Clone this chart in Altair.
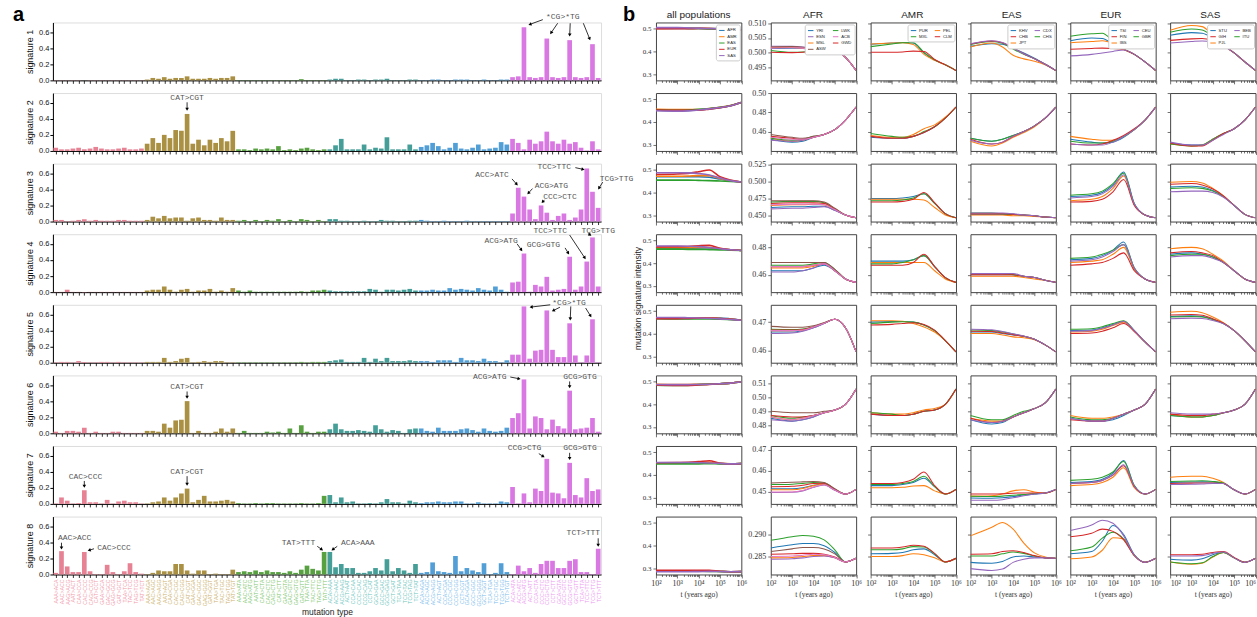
import math
import altair as alt
import pandas as pd

# ---------------- panel a data ----------------
SUBS = [("A", "C"), ("A", "G"), ("A", "T"), ("C", "A"), ("C", "G"), ("C", "T")]
BASES = ["A", "C", "G", "T"]
MUT_TYPES = [f"{l}{r}{q}>{l}{a}{q}" for (r, a) in SUBS for l in BASES for q in BASES]

SIG1 = ([0.002] * 16
        + [0.01, 0.03, 0.02, 0.04, 0.02, 0.03, 0.03, 0.05, 0.02, 0.02, 0.02, 0.03, 0.02, 0.03, 0.03, 0.05]
        + [0.003, 0.003, 0.003, 0.003, 0.003, 0.003, 0.003, 0.003, 0.003, 0.003, 0.003, 0.015, 0.003, 0.003, 0.003, 0.003]
        + [0.01, 0.02, 0.02, 0.003, 0.003, 0.01, 0.01, 0.003, 0.01, 0.01, 0.02, 0.003, 0.003, 0.003, 0.01, 0.01]
        + [0.003, 0.003, 0.01, 0.01, 0.003, 0.003, 0.01, 0.01, 0.01, 0.003, 0.003, 0.01, 0.003, 0.003, 0.01, 0.01]
        + [0.04, 0.05, 0.66, 0.04, 0.03, 0.04, 0.52, 0.04, 0.03, 0.04, 0.50, 0.04, 0.03, 0.04, 0.45, 0.03])
SIG2 = ([0.04, 0.02, 0.02, 0.03, 0.04, 0.02, 0.03, 0.05, 0.03, 0.02, 0.02, 0.03, 0.04, 0.02, 0.02, 0.03]
        + [0.09, 0.16, 0.10, 0.20, 0.16, 0.26, 0.25, 0.46, 0.09, 0.14, 0.07, 0.14, 0.10, 0.16, 0.12, 0.25]
        + [0.02, 0.02, 0.01, 0.03, 0.02, 0.03, 0.02, 0.06, 0.01, 0.02, 0.01, 0.03, 0.04, 0.02, 0.01, 0.02]
        + [0.02, 0.07, 0.15, 0.02, 0.02, 0.02, 0.08, 0.02, 0.04, 0.03, 0.17, 0.02, 0.02, 0.02, 0.08, 0.02]
        + [0.05, 0.07, 0.10, 0.06, 0.02, 0.04, 0.10, 0.03, 0.02, 0.04, 0.08, 0.02, 0.03, 0.04, 0.11, 0.08]
        + [0.15, 0.10, 0.02, 0.14, 0.09, 0.12, 0.24, 0.12, 0.09, 0.14, 0.09, 0.11, 0.04, 0.005, 0.12, 0.02])
SIG3 = ([0.02, 0.02, 0.005, 0.01, 0.02, 0.03, 0.01, 0.02, 0.01, 0.01, 0.01, 0.02, 0.02, 0.01, 0.01, 0.01]
        + [0.02, 0.06, 0.04, 0.07, 0.04, 0.05, 0.05, 0.01, 0.04, 0.05, 0.02, 0.02, 0.01, 0.05, 0.02, 0.02]
        + [0.01, 0.02, 0.005, 0.02, 0.005, 0.02, 0.01, 0.03, 0.005, 0.02, 0.005, 0.03, 0.02, 0.005, 0.02, 0.005]
        + [0.03, 0.03, 0.01, 0.01, 0.005, 0.005, 0.01, 0.005, 0.005, 0.02, 0.01, 0.01, 0.005, 0.005, 0.01, 0.01]
        + [0.02, 0.01, 0.005, 0.005, 0.01, 0.005, 0.005, 0.005, 0.01, 0.005, 0.005, 0.005, 0.005, 0.005, 0.005, 0.005]
        + [0.10, 0.42, 0.31, 0.15, 0.03, 0.20, 0.11, 0.02, 0.07, 0.10, 0.02, 0.05, 0.15, 0.66, 0.37, 0.17])
SIG4 = ([0.003, 0.003, 0.03, 0.003, 0.003, 0.003, 0.003, 0.003, 0.003, 0.003, 0.003, 0.003, 0.003, 0.003, 0.003, 0.003]
        + [0.02, 0.03, 0.03, 0.07, 0.03, 0.005, 0.03, 0.04, 0.005, 0.02, 0.02, 0.04, 0.005, 0.02, 0.005, 0.05]
        + [0.02, 0.005, 0.02, 0.005, 0.005, 0.005, 0.005, 0.005, 0.005, 0.005, 0.005, 0.01, 0.005, 0.02, 0.02, 0.03]
        + [0.02, 0.01, 0.01, 0.01, 0.01, 0.01, 0.01, 0.04, 0.03, 0.005, 0.03, 0.03, 0.02, 0.03, 0.04, 0.02]
        + [0.02, 0.02, 0.03, 0.02, 0.02, 0.05, 0.03, 0.04, 0.03, 0.02, 0.05, 0.03, 0.02, 0.07, 0.03, 0.005]
        + [0.12, 0.13, 0.48, 0.005, 0.09, 0.07, 0.19, 0.02, 0.03, 0.04, 0.44, 0.03, 0.07, 0.38, 0.68, 0.07])
SIG5 = ([0.005, 0.01, 0.01, 0.005, 0.02, 0.01, 0.005, 0.005, 0.01, 0.01, 0.005, 0.01, 0.005, 0.005, 0.005, 0.005]
        + [0.01, 0.01, 0.01, 0.06, 0.01, 0.02, 0.05, 0.06, 0.005, 0.01, 0.02, 0.01, 0.02, 0.02, 0.005, 0.005]
        + [0.005, 0.005, 0.005, 0.005, 0.005, 0.005, 0.005, 0.005, 0.005, 0.005, 0.005, 0.01, 0.005, 0.01, 0.01, 0.01]
        + [0.02, 0.03, 0.04, 0.01, 0.01, 0.01, 0.06, 0.01, 0.05, 0.02, 0.06, 0.02, 0.02, 0.02, 0.03, 0.02]
        + [0.02, 0.02, 0.01, 0.03, 0.03, 0.03, 0.01, 0.06, 0.03, 0.03, 0.02, 0.05, 0.02, 0.02, 0.005, 0.03]
        + [0.10, 0.10, 0.70, 0.05, 0.15, 0.16, 0.65, 0.16, 0.07, 0.07, 0.49, 0.09, 0.005, 0.09, 0.54, 0.005])
SIG6 = ([0.02, 0.005, 0.03, 0.03, 0.02, 0.07, 0.005, 0.02, 0.005, 0.005, 0.02, 0.02, 0.005, 0.005, 0.005, 0.005]
        + [0.03, 0.03, 0.02, 0.12, 0.07, 0.16, 0.17, 0.40, 0.005, 0.03, 0.005, 0.005, 0.02, 0.06, 0.02, 0.06]
        + [0.005, 0.03, 0.005, 0.005, 0.005, 0.02, 0.01, 0.02, 0.005, 0.06, 0.005, 0.10, 0.02, 0.005, 0.02, 0.02]
        + [0.05, 0.12, 0.05, 0.03, 0.03, 0.04, 0.03, 0.02, 0.10, 0.05, 0.02, 0.04, 0.03, 0.005, 0.05, 0.06]
        + [0.06, 0.03, 0.02, 0.07, 0.03, 0.03, 0.03, 0.05, 0.06, 0.04, 0.02, 0.06, 0.03, 0.02, 0.03, 0.07]
        + [0.19, 0.25, 0.67, 0.06, 0.21, 0.19, 0.05, 0.17, 0.09, 0.06, 0.53, 0.05, 0.06, 0.07, 0.19, 0.02])
SIG7 = ([0.005, 0.08, 0.04, 0.005, 0.01, 0.17, 0.02, 0.02, 0.005, 0.05, 0.005, 0.03, 0.04, 0.02, 0.02, 0.005]
        + [0.005, 0.02, 0.03, 0.08, 0.04, 0.08, 0.13, 0.19, 0.02, 0.05, 0.10, 0.03, 0.03, 0.04, 0.05, 0.03]
        + [0.01, 0.005, 0.005, 0.01, 0.005, 0.01, 0.01, 0.005, 0.005, 0.005, 0.005, 0.01, 0.005, 0.005, 0.01, 0.10]
        + [0.11, 0.02, 0.08, 0.02, 0.03, 0.005, 0.005, 0.01, 0.005, 0.02, 0.06, 0.02, 0.02, 0.005, 0.04, 0.02]
        + [0.01, 0.02, 0.02, 0.03, 0.02, 0.02, 0.03, 0.03, 0.005, 0.005, 0.02, 0.005, 0.005, 0.005, 0.03, 0.02]
        + [0.21, 0.005, 0.13, 0.02, 0.19, 0.16, 0.56, 0.14, 0.13, 0.07, 0.51, 0.11, 0.08, 0.32, 0.16, 0.18])
SIG8 = ([0.02, 0.29, 0.10, 0.03, 0.03, 0.28, 0.04, 0.005, 0.005, 0.12, 0.03, 0.005, 0.04, 0.14, 0.03, 0.01]
        + [0.005, 0.02, 0.05, 0.04, 0.04, 0.13, 0.13, 0.05, 0.01, 0.05, 0.05, 0.005, 0.01, 0.005, 0.005, 0.06]
        + [0.03, 0.04, 0.03, 0.05, 0.03, 0.05, 0.03, 0.03, 0.02, 0.04, 0.02, 0.06, 0.11, 0.07, 0.05, 0.28]
        + [0.28, 0.09, 0.13, 0.08, 0.08, 0.02, 0.02, 0.04, 0.08, 0.05, 0.19, 0.04, 0.08, 0.05, 0.02, 0.13]
        + [0.02, 0.03, 0.15, 0.04, 0.03, 0.02, 0.23, 0.04, 0.08, 0.05, 0.03, 0.14, 0.005, 0.02, 0.14, 0.03]
        + [0.005, 0.11, 0.04, 0.08, 0.02, 0.13, 0.17, 0.17, 0.08, 0.08, 0.17, 0.19, 0.03, 0.03, 0.005, 0.32])
SIGNATURES = [SIG1, SIG2, SIG3, SIG4, SIG5, SIG6, SIG7, SIG8]

BAR_COLORS = ["#e68294", "#aa9043", "#58a141", "#459e97", "#519fd6", "#d978e2"]
LABEL_COLORS = ["#f29aab", "#cdb26e", "#82c873", "#6fc6bd", "#7dbdec", "#ec98f1"]

# annotations: signature -> [(text, text_idx, text_val, [(x0, y0, x1, y1), ...])]
ANNOTS = {
    0: [("*CG>*TG", 88.8, 0.785, [(85.3, 0.755, 82.8, 0.69), (87.9, 0.71, 86.6, 0.575),
                                  (90.1, 0.71, 90.0, 0.545), (92.4, 0.71, 93.6, 0.50)])],
    1: [("CAT>CGT", 23.0, 0.655, [(23.0, 0.605, 23.0, 0.50)])],
    2: [("ACC>ATC", 76.4, 0.575, [(79.9, 0.53, 80.9, 0.45)]),
        ("ACG>ATG", 86.8, 0.445, [(83.5, 0.41, 82.6, 0.34)]),
        ("CCC>CTC", 88.3, 0.31, [(85.6, 0.27, 85.1, 0.23)]),
        ("TCC>TTC", 87.3, 0.68, [(91.0, 0.67, 92.6, 0.645)]),
        ("TCG>TTG", 98.2, 0.53, [(95.8, 0.49, 95.0, 0.40)])],
    3: [("ACG>ATG", 78.0, 0.64, [(80.8, 0.60, 81.7, 0.51)]),
        ("GCG>GTG", 85.4, 0.58, [(89.2, 0.55, 89.9, 0.47)]),
        ("TCC>TTC", 86.6, 0.76, [(90.0, 0.71, 92.8, 0.41)]),
        ("TCG>TTG", 95.0, 0.765, [(93.2, 0.73, 93.8, 0.70)])],
    4: [("*CG>*TG", 89.9, 0.745, [(86.6, 0.72, 83.0, 0.69), (88.3, 0.69, 86.9, 0.64),
                                  (90.2, 0.70, 90.1, 0.525), (92.8, 0.68, 93.8, 0.565)])],
    5: [("CAT>CGT", 23.0, 0.575, [(23.0, 0.52, 23.0, 0.43)]),
        ("ACG>ATG", 76.0, 0.70, [(79.6, 0.70, 81.4, 0.675)]),
        ("GCG>GTG", 91.8, 0.695, [(90.0, 0.645, 90.0, 0.56)])],
    6: [("CAC>CCC", 5.2, 0.335, [(5.0, 0.285, 5.0, 0.20)]),
        ("CAT>CGT", 23.0, 0.40, [(23.0, 0.345, 23.0, 0.225)]),
        ("CCG>CTG", 82.1, 0.69, [(84.6, 0.625, 85.6, 0.58)]),
        ("GCG>GTG", 91.8, 0.69, [(90.0, 0.635, 90.0, 0.545)])],
    7: [("AAC>ACC", 3.3, 0.45, [(1.0, 0.395, 1.0, 0.31)]),
        ("CAC>CCC", 10.2, 0.33, [(6.7, 0.32, 5.6, 0.295)]),
        ("TAT>TTT", 42.5, 0.39, [(45.8, 0.35, 46.8, 0.30)]),
        ("ACA>AAA", 52.9, 0.39, [(49.3, 0.35, 48.3, 0.30)]),
        ("TCT>TTT", 92.4, 0.51, [(95.0, 0.45, 95.0, 0.345)])],
}

# ---------------- panel b data ----------------
LOGT = [2, 3, 3.5, 4, 4.5, 5, 5.5, 6]
POPS = {
    "all": ["AFR", "AMR", "EAS", "EUR", "SAS"],
    "AFR": ["YRI", "MSL", "LWK", "GWD", "ESN", "ASW", "ACB"],
    "AMR": ["PUR", "PEL", "MXL", "CLM"],
    "EAS": ["KHV", "JPT", "CHS", "CHB", "CDX"],
    "EUR": ["TSI", "IBS", "GBR", "FIN", "CEU"],
    "SAS": ["STU", "PJL", "ITU", "GIH", "BEB"],
}
LEGEND_ORDER = {
    "all": ["AFR", "AMR", "EAS", "EUR", "SAS"],
    "AFR": ["YRI", "ESN", "MSL", "ASW", "LWK", "ACB", "GWD"],
    "AMR": ["PUR", "MXL", "PEL", "CLM"],
    "EAS": ["KHV", "CHB", "JPT", "CDX", "CHS"],
    "EUR": ["TSI", "FIN", "IBS", "CEU", "GBR"],
    "SAS": ["STU", "GIH", "PJL", "BEB", "ITU"],
}
COLS = ["all", "AFR", "AMR", "EAS", "EUR", "SAS"]
COL_TITLES = ["all populations", "AFR", "AMR", "EAS", "EUR", "SAS"]
TAB10 = ["#1f77b4", "#ff7f0e", "#2ca02c", "#d62728", "#9467bd", "#8c564b", "#e377c2"]

ALL_YDOMAIN = [0.272, 0.528]
ALL_YTICKS = [0.3, 0.4, 0.5]
SUB_YDOMAIN = [[0.4908, 0.5102], [0.4398, 0.5002], [0.4415, 0.5262], [0.4474, 0.4896],
               [0.4557, 0.4761], [0.4743, 0.5157], [0.4443, 0.4719], [0.2811, 0.2940]]
SUB_YTICKS = [[0.495, 0.500, 0.505, 0.510], [0.46, 0.48, 0.50], [0.450, 0.475, 0.500, 0.525], [0.46, 0.48],
              [0.46, 0.47], [0.48, 0.49, 0.50, 0.51], [0.45, 0.46, 0.47], [0.285, 0.290]]
SUB_YFMT = [".3f", ".2f", ".3f", ".2f", ".2f", ".2f", ".2f", ".3f"]

LINES_S1 = {
    "all": {"AFR": [0.501, 0.501, 0.501, 0.501, 0.501, 0.501, 0.499, 0.496],
            "AMR": [0.502, 0.503, 0.503, 0.503, 0.501, 0.499, 0.497, 0.496],
            "EAS": [0.503, 0.503, 0.502, 0.501, 0.499, 0.498, 0.497, 0.496],
            "EUR": [0.500, 0.500, 0.500, 0.501, 0.501, 0.500, 0.498, 0.496],
            "SAS": [0.505, 0.505, 0.504, 0.503, 0.501, 0.500, 0.498, 0.496]},
    "AFR": {"YRI": [0.5015, 0.5016, 0.5015, 0.5013, 0.5011, 0.5010, 0.4985, 0.4941],
            "MSL": [0.5018, 0.5018, 0.5016, 0.5013, 0.5011, 0.5010, 0.4985, 0.4941],
            "LWK": [0.5008, 0.5002, 0.5003, 0.5007, 0.5010, 0.5010, 0.4985, 0.4941],
            "GWD": [0.5002, 0.5001, 0.5002, 0.5006, 0.5010, 0.5010, 0.4985, 0.4941],
            "ESN": [0.5022, 0.5022, 0.5020, 0.5015, 0.5011, 0.5010, 0.4985, 0.4941],
            "ASW": [0.5020, 0.5021, 0.5019, 0.5014, 0.5011, 0.5010, 0.4985, 0.4941],
            "ACB": [0.5016, 0.5017, 0.5016, 0.5013, 0.5011, 0.5010, 0.4985, 0.4941]},
    "AMR": {"PUR": [0.5029, 0.5033, 0.5035, 0.5033, 0.5000, 0.4976, 0.4960, 0.4941],
            "PEL": [0.5030, 0.5033, 0.5034, 0.5028, 0.4995, 0.4975, 0.4960, 0.4941],
            "MXL": [0.5021, 0.5030, 0.5034, 0.5034, 0.5002, 0.4977, 0.4960, 0.4941],
            "CLM": [0.5002, 0.5002, 0.5003, 0.5006, 0.5005, 0.4978, 0.4960, 0.4941]},
    "EAS": {"KHV": [0.5022, 0.5031, 0.5029, 0.5015, 0.5000, 0.4982, 0.4962, 0.4941],
            "JPT": [0.5020, 0.5033, 0.5020, 0.4992, 0.4980, 0.4972, 0.4960, 0.4941],
            "CHS": [0.5028, 0.5038, 0.5032, 0.5013, 0.4995, 0.4980, 0.4962, 0.4941],
            "CHB": [0.5030, 0.5040, 0.5034, 0.5016, 0.4997, 0.4980, 0.4962, 0.4941],
            "CDX": [0.5031, 0.5041, 0.5035, 0.5016, 0.4997, 0.4980, 0.4962, 0.4941]},
    "EUR": {"TSI": [0.5041, 0.5050, 0.5048, 0.5030, 0.5012, 0.4995, 0.4970, 0.4941],
            "IBS": [0.5034, 0.5038, 0.5041, 0.5032, 0.5012, 0.4995, 0.4970, 0.4941],
            "GBR": [0.5056, 0.5064, 0.5066, 0.5040, 0.5013, 0.4995, 0.4970, 0.4941],
            "FIN": [0.5012, 0.5015, 0.5016, 0.5015, 0.5011, 0.4995, 0.4970, 0.4941],
            "CEU": [0.4990, 0.4995, 0.5000, 0.5005, 0.5010, 0.4995, 0.4970, 0.4941]},
    "SAS": {"STU": [0.5059, 0.5068, 0.5066, 0.5050, 0.5025, 0.5000, 0.4970, 0.4941],
            "PJL": [0.5076, 0.5092, 0.5088, 0.5060, 0.5026, 0.5000, 0.4970, 0.4941],
            "ITU": [0.5069, 0.5080, 0.5077, 0.5055, 0.5025, 0.5000, 0.4970, 0.4941],
            "GIH": [0.5042, 0.5047, 0.5048, 0.5040, 0.5024, 0.5000, 0.4970, 0.4941],
            "BEB": [0.5033, 0.5038, 0.5040, 0.5036, 0.5023, 0.5000, 0.4970, 0.4941]},
}
LINES_S2 = {
    "all": {"AFR": [0.452, 0.450, 0.451, 0.454, 0.458, 0.463, 0.472, 0.486],
            "AMR": [0.456, 0.455, 0.455, 0.455, 0.459, 0.465, 0.473, 0.486],
            "EAS": [0.454, 0.452, 0.453, 0.456, 0.460, 0.465, 0.473, 0.486],
            "EUR": [0.453, 0.452, 0.452, 0.452, 0.457, 0.463, 0.472, 0.486],
            "SAS": [0.450, 0.448, 0.449, 0.453, 0.458, 0.464, 0.472, 0.486]},
    "AFR": {"YRI": [0.452, 0.449, 0.450, 0.454, 0.457, 0.462, 0.472, 0.4856],
            "MSL": [0.453, 0.450, 0.451, 0.454, 0.457, 0.462, 0.472, 0.4856],
            "LWK": [0.453, 0.451, 0.452, 0.455, 0.457, 0.462, 0.472, 0.4856],
            "GWD": [0.455, 0.453, 0.452, 0.454, 0.457, 0.462, 0.472, 0.4856],
            "ESN": [0.451, 0.450, 0.451, 0.454, 0.457, 0.462, 0.472, 0.4856],
            "ASW": [0.457, 0.454, 0.453, 0.455, 0.457, 0.462, 0.472, 0.4856],
            "ACB": [0.454, 0.452, 0.452, 0.454, 0.457, 0.462, 0.472, 0.4856]},
    "AMR": {"PUR": [0.454, 0.453, 0.453, 0.455, 0.459, 0.465, 0.474, 0.4856],
            "PEL": [0.456, 0.454, 0.454, 0.457, 0.463, 0.467, 0.475, 0.4856],
            "MXL": [0.458, 0.455, 0.454, 0.455, 0.460, 0.465, 0.474, 0.4856],
            "CLM": [0.455, 0.453, 0.453, 0.455, 0.459, 0.465, 0.474, 0.4856]},
    "EAS": {"KHV": [0.453, 0.450, 0.452, 0.456, 0.460, 0.466, 0.474, 0.4856],
            "JPT": [0.450, 0.445, 0.448, 0.454, 0.459, 0.465, 0.474, 0.4856],
            "CHS": [0.453, 0.450, 0.452, 0.456, 0.460, 0.466, 0.474, 0.4856],
            "CHB": [0.452, 0.447, 0.449, 0.455, 0.460, 0.466, 0.474, 0.4856],
            "CDX": [0.451, 0.447, 0.449, 0.455, 0.460, 0.466, 0.474, 0.4856]},
    "EUR": {"TSI": [0.452, 0.449, 0.448, 0.449, 0.454, 0.462, 0.472, 0.4856],
            "IBS": [0.455, 0.452, 0.451, 0.451, 0.455, 0.462, 0.472, 0.4856],
            "GBR": [0.450, 0.448, 0.448, 0.450, 0.455, 0.462, 0.472, 0.4856],
            "FIN": [0.447, 0.446, 0.447, 0.451, 0.456, 0.463, 0.472, 0.4856],
            "CEU": [0.447, 0.446, 0.446, 0.449, 0.455, 0.462, 0.472, 0.4856]},
    "SAS": {"STU": [0.448, 0.446, 0.446, 0.452, 0.458, 0.463, 0.472, 0.4856],
            "PJL": [0.447, 0.445, 0.446, 0.452, 0.458, 0.463, 0.472, 0.4856],
            "ITU": [0.447, 0.445, 0.446, 0.452, 0.458, 0.463, 0.472, 0.4856],
            "GIH": [0.448, 0.445, 0.445, 0.451, 0.458, 0.463, 0.472, 0.4856],
            "BEB": [0.449, 0.446, 0.446, 0.451, 0.457, 0.463, 0.472, 0.4856]},
}
LINES_S3 = {
    "all": {"AFR": [0.470, 0.470, 0.470, 0.470, 0.468, 0.460, 0.452, 0.447],
            "AMR": [0.472, 0.472, 0.473, 0.475, 0.475, 0.462, 0.452, 0.447],
            "EAS": [0.455, 0.455, 0.455, 0.454, 0.453, 0.451, 0.449, 0.447],
            "EUR": [0.480, 0.482, 0.485, 0.492, 0.500, 0.470, 0.455, 0.447],
            "SAS": [0.488, 0.488, 0.487, 0.484, 0.478, 0.465, 0.453, 0.447]},
    "AFR": {"YRI": [0.462, 0.463, 0.463, 0.464, 0.464, 0.458, 0.451, 0.447],
            "MSL": [0.465, 0.466, 0.466, 0.467, 0.466, 0.459, 0.451, 0.447],
            "LWK": [0.470, 0.471, 0.471, 0.471, 0.469, 0.460, 0.451, 0.447],
            "GWD": [0.468, 0.469, 0.469, 0.469, 0.468, 0.460, 0.451, 0.447],
            "ESN": [0.460, 0.461, 0.461, 0.462, 0.463, 0.458, 0.451, 0.447],
            "ASW": [0.472, 0.472, 0.472, 0.472, 0.470, 0.461, 0.451, 0.447],
            "ACB": [0.466, 0.467, 0.467, 0.467, 0.466, 0.459, 0.451, 0.447]},
    "AMR": {"PUR": [0.475, 0.475, 0.476, 0.478, 0.482, 0.468, 0.453, 0.447],
            "PEL": [0.474, 0.474, 0.474, 0.474, 0.473, 0.462, 0.451, 0.447],
            "MXL": [0.472, 0.472, 0.473, 0.476, 0.482, 0.468, 0.453, 0.447],
            "CLM": [0.470, 0.470, 0.471, 0.474, 0.484, 0.469, 0.453, 0.447]},
    "EAS": {"KHV": [0.452, 0.452, 0.452, 0.452, 0.451, 0.450, 0.448, 0.447],
            "JPT": [0.451, 0.451, 0.451, 0.450, 0.450, 0.449, 0.448, 0.447],
            "CHS": [0.454, 0.454, 0.453, 0.452, 0.451, 0.450, 0.448, 0.447],
            "CHB": [0.453, 0.453, 0.453, 0.452, 0.451, 0.450, 0.448, 0.447],
            "CDX": [0.454, 0.454, 0.454, 0.453, 0.451, 0.450, 0.448, 0.447]},
    "EUR": {"TSI": [0.478, 0.480, 0.484, 0.495, 0.514, 0.468, 0.451, 0.447],
            "IBS": [0.472, 0.474, 0.478, 0.490, 0.508, 0.466, 0.451, 0.447],
            "GBR": [0.480, 0.482, 0.486, 0.497, 0.512, 0.467, 0.451, 0.447],
            "FIN": [0.470, 0.471, 0.474, 0.485, 0.503, 0.465, 0.451, 0.447],
            "CEU": [0.476, 0.478, 0.482, 0.493, 0.510, 0.467, 0.451, 0.447]},
    "SAS": {"STU": [0.492, 0.493, 0.492, 0.487, 0.478, 0.465, 0.452, 0.447],
            "PJL": [0.499, 0.500, 0.498, 0.490, 0.479, 0.465, 0.452, 0.447],
            "ITU": [0.490, 0.491, 0.490, 0.486, 0.478, 0.465, 0.452, 0.447],
            "GIH": [0.496, 0.497, 0.495, 0.489, 0.479, 0.465, 0.452, 0.447],
            "BEB": [0.485, 0.486, 0.486, 0.484, 0.477, 0.465, 0.452, 0.447]},
}
LINES_S4 = {
    "all": {"AFR": [0.466, 0.466, 0.466, 0.467, 0.467, 0.463, 0.459, 0.456],
            "AMR": [0.468, 0.468, 0.468, 0.469, 0.470, 0.465, 0.459, 0.456],
            "EAS": [0.462, 0.462, 0.461, 0.461, 0.460, 0.459, 0.457, 0.456],
            "EUR": [0.472, 0.473, 0.474, 0.477, 0.479, 0.466, 0.459, 0.456],
            "SAS": [0.476, 0.476, 0.475, 0.473, 0.469, 0.464, 0.459, 0.456]},
    "AFR": {"YRI": [0.463, 0.463, 0.463, 0.465, 0.467, 0.463, 0.457, 0.4545],
            "MSL": [0.465, 0.465, 0.465, 0.466, 0.468, 0.463, 0.457, 0.4545],
            "LWK": [0.467, 0.467, 0.467, 0.468, 0.469, 0.464, 0.457, 0.4545],
            "GWD": [0.466, 0.466, 0.466, 0.467, 0.468, 0.463, 0.457, 0.4545],
            "ESN": [0.462, 0.462, 0.463, 0.465, 0.468, 0.463, 0.457, 0.4545],
            "ASW": [0.469, 0.469, 0.469, 0.469, 0.469, 0.464, 0.457, 0.4545],
            "ACB": [0.466, 0.466, 0.466, 0.467, 0.468, 0.463, 0.457, 0.4545]},
    "AMR": {"PUR": [0.470, 0.470, 0.470, 0.471, 0.474, 0.466, 0.458, 0.4545],
            "PEL": [0.469, 0.469, 0.469, 0.469, 0.469, 0.463, 0.457, 0.4545],
            "MXL": [0.468, 0.468, 0.469, 0.471, 0.474, 0.466, 0.458, 0.4545],
            "CLM": [0.467, 0.467, 0.467, 0.469, 0.475, 0.466, 0.458, 0.4545]},
    "EAS": {"KHV": [0.460, 0.460, 0.460, 0.460, 0.459, 0.458, 0.456, 0.4545],
            "JPT": [0.459, 0.459, 0.459, 0.459, 0.458, 0.457, 0.456, 0.4545],
            "CHS": [0.461, 0.461, 0.461, 0.460, 0.459, 0.458, 0.456, 0.4545],
            "CHB": [0.460, 0.460, 0.460, 0.460, 0.459, 0.458, 0.456, 0.4545],
            "CDX": [0.461, 0.461, 0.461, 0.461, 0.459, 0.458, 0.456, 0.4545]},
    "EUR": {"TSI": [0.471, 0.472, 0.474, 0.478, 0.484, 0.465, 0.457, 0.4545],
            "IBS": [0.469, 0.470, 0.471, 0.475, 0.480, 0.464, 0.457, 0.4545],
            "GBR": [0.472, 0.473, 0.475, 0.478, 0.482, 0.465, 0.457, 0.4545],
            "FIN": [0.467, 0.468, 0.469, 0.472, 0.476, 0.463, 0.457, 0.4545],
            "CEU": [0.470, 0.471, 0.473, 0.477, 0.482, 0.465, 0.457, 0.4545]},
    "SAS": {"STU": [0.475, 0.476, 0.475, 0.473, 0.469, 0.463, 0.457, 0.4545],
            "PJL": [0.479, 0.480, 0.479, 0.475, 0.470, 0.463, 0.457, 0.4545],
            "ITU": [0.474, 0.475, 0.475, 0.473, 0.469, 0.463, 0.457, 0.4545],
            "GIH": [0.476, 0.477, 0.476, 0.474, 0.469, 0.463, 0.457, 0.4545],
            "BEB": [0.473, 0.474, 0.474, 0.472, 0.469, 0.463, 0.457, 0.4545]},
}
LINES_S5 = {
    "all": {"AFR": [0.468, 0.468, 0.468, 0.469, 0.470, 0.470, 0.466, 0.460],
            "AMR": [0.470, 0.470, 0.470, 0.470, 0.469, 0.467, 0.464, 0.460],
            "EAS": [0.467, 0.466, 0.466, 0.465, 0.465, 0.464, 0.462, 0.460],
            "EUR": [0.467, 0.467, 0.468, 0.469, 0.470, 0.467, 0.464, 0.460],
            "SAS": [0.472, 0.472, 0.471, 0.470, 0.468, 0.466, 0.463, 0.460]},
    "AFR": {"YRI": [0.4665, 0.4665, 0.4670, 0.4680, 0.4695, 0.4710, 0.4680, 0.4595],
            "MSL": [0.4670, 0.4670, 0.4672, 0.4682, 0.4696, 0.4710, 0.4680, 0.4595],
            "LWK": [0.4675, 0.4674, 0.4676, 0.4684, 0.4697, 0.4710, 0.4680, 0.4595],
            "GWD": [0.4672, 0.4672, 0.4674, 0.4683, 0.4696, 0.4710, 0.4680, 0.4595],
            "ESN": [0.4660, 0.4662, 0.4668, 0.4680, 0.4695, 0.4710, 0.4680, 0.4595],
            "ASW": [0.4685, 0.4682, 0.4682, 0.4687, 0.4698, 0.4710, 0.4680, 0.4595],
            "ACB": [0.4670, 0.4670, 0.4672, 0.4683, 0.4696, 0.4710, 0.4680, 0.4595]},
    "AMR": {"PUR": [0.4700, 0.4702, 0.4702, 0.4700, 0.4690, 0.4670, 0.4635, 0.4595],
            "PEL": [0.4705, 0.4705, 0.4703, 0.4695, 0.4683, 0.4665, 0.4635, 0.4595],
            "MXL": [0.4695, 0.4700, 0.4701, 0.4700, 0.4690, 0.4670, 0.4635, 0.4595],
            "CLM": [0.4690, 0.4692, 0.4695, 0.4698, 0.4692, 0.4672, 0.4635, 0.4595]},
    "EAS": {"KHV": [0.4665, 0.4665, 0.4660, 0.4655, 0.4650, 0.4640, 0.4620, 0.4595],
            "JPT": [0.4660, 0.4660, 0.4655, 0.4648, 0.4645, 0.4638, 0.4620, 0.4595],
            "CHS": [0.4672, 0.4670, 0.4665, 0.4658, 0.4650, 0.4640, 0.4620, 0.4595],
            "CHB": [0.4668, 0.4667, 0.4662, 0.4656, 0.4650, 0.4640, 0.4620, 0.4595],
            "CDX": [0.4675, 0.4673, 0.4667, 0.4659, 0.4651, 0.4640, 0.4620, 0.4595]},
    "EUR": {"TSI": [0.4670, 0.4672, 0.4680, 0.4692, 0.4703, 0.4670, 0.4630, 0.4595],
            "IBS": [0.4665, 0.4668, 0.4675, 0.4688, 0.4700, 0.4668, 0.4630, 0.4595],
            "GBR": [0.4675, 0.4677, 0.4684, 0.4695, 0.4705, 0.4670, 0.4630, 0.4595],
            "FIN": [0.4660, 0.4662, 0.4668, 0.4680, 0.4695, 0.4667, 0.4630, 0.4595],
            "CEU": [0.4668, 0.4670, 0.4678, 0.4690, 0.4702, 0.4670, 0.4630, 0.4595]},
    "SAS": {"STU": [0.4720, 0.4722, 0.4720, 0.4710, 0.4695, 0.4670, 0.4635, 0.4595],
            "PJL": [0.4735, 0.4738, 0.4733, 0.4718, 0.4698, 0.4670, 0.4635, 0.4595],
            "ITU": [0.4718, 0.4720, 0.4718, 0.4709, 0.4695, 0.4670, 0.4635, 0.4595],
            "GIH": [0.4725, 0.4727, 0.4724, 0.4712, 0.4696, 0.4670, 0.4635, 0.4595],
            "BEB": [0.4712, 0.4714, 0.4713, 0.4706, 0.4694, 0.4670, 0.4635, 0.4595]},
}
LINES_S6 = {
    "all": {"AFR": [0.486, 0.485, 0.486, 0.488, 0.490, 0.491, 0.494, 0.500],
            "AMR": [0.489, 0.488, 0.488, 0.489, 0.490, 0.491, 0.494, 0.500],
            "EAS": [0.485, 0.483, 0.484, 0.487, 0.489, 0.491, 0.494, 0.500],
            "EUR": [0.486, 0.484, 0.484, 0.486, 0.488, 0.491, 0.494, 0.500],
            "SAS": [0.488, 0.487, 0.487, 0.488, 0.489, 0.491, 0.494, 0.500]},
    "AFR": {"YRI": [0.485, 0.483, 0.484, 0.486, 0.489, 0.491, 0.495, 0.506],
            "MSL": [0.486, 0.484, 0.485, 0.487, 0.489, 0.491, 0.495, 0.506],
            "LWK": [0.487, 0.485, 0.486, 0.487, 0.489, 0.491, 0.495, 0.506],
            "GWD": [0.487, 0.486, 0.486, 0.487, 0.489, 0.491, 0.495, 0.506],
            "ESN": [0.484, 0.483, 0.484, 0.486, 0.489, 0.491, 0.495, 0.506],
            "ASW": [0.490, 0.489, 0.489, 0.489, 0.490, 0.491, 0.495, 0.506],
            "ACB": [0.486, 0.484, 0.485, 0.487, 0.489, 0.491, 0.495, 0.506]},
    "AMR": {"PUR": [0.488, 0.487, 0.487, 0.488, 0.490, 0.491, 0.495, 0.506],
            "PEL": [0.489, 0.488, 0.488, 0.489, 0.491, 0.492, 0.495, 0.506],
            "MXL": [0.489, 0.488, 0.487, 0.488, 0.490, 0.491, 0.495, 0.506],
            "CLM": [0.488, 0.487, 0.487, 0.488, 0.490, 0.491, 0.495, 0.506]},
    "EAS": {"KHV": [0.484, 0.481, 0.482, 0.486, 0.489, 0.492, 0.496, 0.506],
            "JPT": [0.485, 0.483, 0.483, 0.486, 0.489, 0.492, 0.496, 0.506],
            "CHS": [0.487, 0.484, 0.484, 0.487, 0.490, 0.492, 0.496, 0.506],
            "CHB": [0.485, 0.482, 0.483, 0.486, 0.489, 0.492, 0.496, 0.506],
            "CDX": [0.484, 0.482, 0.483, 0.486, 0.489, 0.492, 0.496, 0.506]},
    "EUR": {"TSI": [0.485, 0.483, 0.483, 0.484, 0.487, 0.491, 0.495, 0.506],
            "IBS": [0.487, 0.485, 0.485, 0.486, 0.488, 0.491, 0.495, 0.506],
            "GBR": [0.486, 0.484, 0.484, 0.485, 0.488, 0.491, 0.495, 0.506],
            "FIN": [0.484, 0.483, 0.483, 0.485, 0.488, 0.491, 0.495, 0.506],
            "CEU": [0.485, 0.483, 0.483, 0.485, 0.488, 0.491, 0.495, 0.506]},
    "SAS": {"STU": [0.487, 0.486, 0.486, 0.487, 0.489, 0.491, 0.495, 0.506],
            "PJL": [0.488, 0.486, 0.486, 0.487, 0.489, 0.491, 0.495, 0.506],
            "ITU": [0.487, 0.486, 0.486, 0.487, 0.489, 0.491, 0.495, 0.506],
            "GIH": [0.488, 0.487, 0.487, 0.488, 0.489, 0.491, 0.495, 0.506],
            "BEB": [0.489, 0.488, 0.488, 0.488, 0.489, 0.491, 0.495, 0.506]},
}
LINES_S7 = {
    "all": {"AFR": [0.452, 0.452, 0.452, 0.453, 0.454, 0.451, 0.449, 0.450],
            "AMR": [0.454, 0.454, 0.454, 0.455, 0.456, 0.451, 0.449, 0.450],
            "EAS": [0.449, 0.449, 0.449, 0.449, 0.450, 0.449, 0.449, 0.450],
            "EUR": [0.454, 0.455, 0.456, 0.459, 0.463, 0.452, 0.449, 0.450],
            "SAS": [0.455, 0.455, 0.455, 0.454, 0.453, 0.451, 0.449, 0.450]},
    "AFR": {"YRI": [0.4515, 0.4515, 0.4520, 0.4532, 0.4538, 0.4510, 0.4490, 0.4512],
            "MSL": [0.4510, 0.4510, 0.4516, 0.4530, 0.4537, 0.4510, 0.4490, 0.4512],
            "LWK": [0.4535, 0.4537, 0.4540, 0.4545, 0.4543, 0.4513, 0.4490, 0.4512],
            "GWD": [0.4525, 0.4527, 0.4532, 0.4540, 0.4541, 0.4512, 0.4490, 0.4512],
            "ESN": [0.4497, 0.4498, 0.4505, 0.4522, 0.4533, 0.4508, 0.4490, 0.4512],
            "ASW": [0.4543, 0.4546, 0.4548, 0.4550, 0.4545, 0.4515, 0.4490, 0.4512],
            "ACB": [0.4500, 0.4500, 0.4507, 0.4524, 0.4534, 0.4509, 0.4490, 0.4512]},
    "AMR": {"PUR": [0.4530, 0.4530, 0.4535, 0.4545, 0.4565, 0.4525, 0.4490, 0.4512],
            "PEL": [0.4520, 0.4520, 0.4522, 0.4528, 0.4530, 0.4505, 0.4490, 0.4512],
            "MXL": [0.4535, 0.4535, 0.4540, 0.4550, 0.4575, 0.4525, 0.4490, 0.4512],
            "CLM": [0.4540, 0.4540, 0.4545, 0.4560, 0.4595, 0.4530, 0.4490, 0.4512]},
    "EAS": {"KHV": [0.4471, 0.4470, 0.4472, 0.4478, 0.4485, 0.4490, 0.4495, 0.4512],
            "JPT": [0.4480, 0.4482, 0.4490, 0.4505, 0.4510, 0.4500, 0.4495, 0.4512],
            "CHS": [0.4479, 0.4478, 0.4480, 0.4484, 0.4488, 0.4492, 0.4495, 0.4512],
            "CHB": [0.4490, 0.4490, 0.4491, 0.4494, 0.4495, 0.4495, 0.4495, 0.4512],
            "CDX": [0.4460, 0.4460, 0.4463, 0.4472, 0.4482, 0.4490, 0.4495, 0.4512]},
    "EUR": {"TSI": [0.4545, 0.4550, 0.4560, 0.4590, 0.4650, 0.4530, 0.4490, 0.4512],
            "IBS": [0.4530, 0.4535, 0.4545, 0.4570, 0.4615, 0.4520, 0.4490, 0.4512],
            "GBR": [0.4555, 0.4560, 0.4570, 0.4595, 0.4645, 0.4530, 0.4490, 0.4512],
            "FIN": [0.4540, 0.4545, 0.4555, 0.4580, 0.4625, 0.4525, 0.4490, 0.4512],
            "CEU": [0.4540, 0.4545, 0.4555, 0.4582, 0.4630, 0.4527, 0.4490, 0.4512]},
    "SAS": {"STU": [0.4545, 0.4547, 0.4548, 0.4547, 0.4540, 0.4510, 0.4490, 0.4512],
            "PJL": [0.4570, 0.4575, 0.4575, 0.4565, 0.4545, 0.4510, 0.4490, 0.4512],
            "ITU": [0.4550, 0.4552, 0.4553, 0.4550, 0.4542, 0.4510, 0.4490, 0.4512],
            "GIH": [0.4540, 0.4542, 0.4543, 0.4543, 0.4540, 0.4510, 0.4490, 0.4512],
            "BEB": [0.4535, 0.4537, 0.4538, 0.4540, 0.4540, 0.4510, 0.4490, 0.4512]},
}
LINES_S8 = {
    "all": {"AFR": [0.2865, 0.2866, 0.2868, 0.2872, 0.2872, 0.2855, 0.2840, 0.2846],
            "AMR": [0.2865, 0.2866, 0.2867, 0.2870, 0.2872, 0.2855, 0.2840, 0.2846],
            "EAS": [0.2860, 0.2868, 0.2872, 0.2868, 0.2858, 0.2850, 0.2842, 0.2846],
            "EUR": [0.2900, 0.2902, 0.2906, 0.2905, 0.2900, 0.2860, 0.2840, 0.2846],
            "SAS": [0.2840, 0.2840, 0.2842, 0.2848, 0.2855, 0.2850, 0.2840, 0.2846]},
    "AFR": {"YRI": [0.2870, 0.2877, 0.2880, 0.2880, 0.2875, 0.2860, 0.2839, 0.2847],
            "MSL": [0.2848, 0.2849, 0.2851, 0.2853, 0.2853, 0.2848, 0.2839, 0.2847],
            "LWK": [0.2887, 0.2895, 0.2898, 0.2896, 0.2888, 0.2866, 0.2839, 0.2847],
            "GWD": [0.2856, 0.2857, 0.2858, 0.2858, 0.2856, 0.2850, 0.2839, 0.2847],
            "ESN": [0.2845, 0.2846, 0.2848, 0.2851, 0.2852, 0.2848, 0.2839, 0.2847],
            "ASW": [0.2862, 0.2868, 0.2871, 0.2871, 0.2868, 0.2857, 0.2839, 0.2847],
            "ACB": [0.2851, 0.2852, 0.2854, 0.2856, 0.2855, 0.2849, 0.2839, 0.2847]},
    "AMR": {"PUR": [0.2857, 0.2858, 0.2860, 0.2866, 0.2868, 0.2855, 0.2839, 0.2847],
            "PEL": [0.2851, 0.2851, 0.2853, 0.2857, 0.2855, 0.2848, 0.2839, 0.2847],
            "MXL": [0.2866, 0.2866, 0.2868, 0.2873, 0.2872, 0.2857, 0.2839, 0.2847],
            "CLM": [0.2870, 0.2870, 0.2872, 0.2876, 0.2874, 0.2858, 0.2839, 0.2847]},
    "EAS": {"KHV": [0.2838, 0.2836, 0.2840, 0.2850, 0.2852, 0.2850, 0.2848, 0.2847],
            "JPT": [0.2897, 0.2916, 0.2927, 0.2912, 0.2881, 0.2859, 0.2850, 0.2847],
            "CHS": [0.2852, 0.2852, 0.2857, 0.2861, 0.2858, 0.2852, 0.2848, 0.2847],
            "CHB": [0.2856, 0.2857, 0.2862, 0.2864, 0.2860, 0.2853, 0.2848, 0.2847],
            "CDX": [0.2824, 0.2820, 0.2823, 0.2838, 0.2845, 0.2848, 0.2848, 0.2847]},
    "EUR": {"TSI": [0.2857, 0.2862, 0.2885, 0.2920, 0.2900, 0.2855, 0.2838, 0.2847],
            "IBS": [0.2846, 0.2850, 0.2865, 0.2893, 0.2890, 0.2853, 0.2838, 0.2847],
            "GBR": [0.2864, 0.2872, 0.2892, 0.2905, 0.2890, 0.2854, 0.2838, 0.2847],
            "FIN": [0.2895, 0.2903, 0.2912, 0.2907, 0.2888, 0.2853, 0.2838, 0.2847],
            "CEU": [0.2909, 0.2921, 0.2932, 0.2925, 0.2897, 0.2854, 0.2838, 0.2847]},
    "SAS": {"STU": [0.2845, 0.2843, 0.2846, 0.2855, 0.2860, 0.2848, 0.2838, 0.2847],
            "PJL": [0.2839, 0.2834, 0.2836, 0.2850, 0.2860, 0.2848, 0.2838, 0.2847],
            "ITU": [0.2839, 0.2835, 0.2837, 0.2851, 0.2860, 0.2848, 0.2838, 0.2847],
            "GIH": [0.2855, 0.2855, 0.2856, 0.2860, 0.2862, 0.2849, 0.2838, 0.2847],
            "BEB": [0.2852, 0.2852, 0.2853, 0.2858, 0.2861, 0.2848, 0.2838, 0.2847]},
}
LINES = [LINES_S1, LINES_S2, LINES_S3, LINES_S4, LINES_S5, LINES_S6, LINES_S7, LINES_S8]

X_MAJOR = [100, 1000, 10000, 100000, 1000000]
X_MINOR = [m * 10 ** e for e in range(2, 6) for m in range(2, 10)]

# ---------------- layout constants ----------------
BAR_W, BAR_H = 549, 58
PANEL_W, PANEL_H = 85.5, 58
ROW_SP, COL_SP = 12.7, 14
GAP_A = 27      # blank column between panel a and panel b
GAP_B = 1       # blank column between "all populations" and AFR
PX_PER_IDX = BAR_W / 96.0
PX_PER_VAL = BAR_H / 0.72
SANS = "Liberation Sans"
SERIF = "Liberation Serif"
MONO = "Liberation Mono"

# column centres of panel b, relative to the left edge of panel a's plot
_start = BAR_W + COL_SP + GAP_A + COL_SP
COL_CENTERS = [_start + PANEL_W / 2]
_start = _start + PANEL_W + COL_SP + GAP_B + COL_SP
for _c in range(5):
    COL_CENTERS.append(_start + PANEL_W / 2)
    _start += PANEL_W + COL_SP

IDX_SCALE = alt.Scale(domain=[-0.5, 95.5], nice=False, zero=False)
VAL_SCALE = alt.Scale(domain=[0, 0.72], nice=False, zero=True)

LABEL_EXPR = "[" + ",".join(f"'{m}'" for m in MUT_TYPES) + "][datum.value]"
LABEL_COLOR_COND = {
    "condition": [{"test": f"datum.value < {16 * (g + 1) - 0.5}", "value": LABEL_COLORS[g]} for g in range(5)],
    "value": LABEL_COLORS[5],
}


def bar_panel(k):
    vals = SIGNATURES[k]
    assert len(vals) == 96
    df = pd.DataFrame({"i": list(range(96)), "mut": MUT_TYPES,
                       "grp": [g for g in range(6) for _ in range(16)], "v": vals})
    last = k == 7
    common = dict(values=list(range(96)), tickSize=3, tickColor="black", domainColor="black",
                  grid=False, tickWidth=0.8)
    if last:
        xaxis = alt.Axis(labelExpr=LABEL_EXPR, labelAngle=270, labelAlign="right", labelBaseline="middle",
                         labelFontSize=5.2, labelPadding=1.5, labelColor=LABEL_COLOR_COND, labelOverlap=False,
                         labelFont=SANS, title="mutation type", titleFontSize=8.5, titleFont=SANS,
                         titleFontWeight="normal", titlePadding=2, titleColor="#222", **common)
    else:
        xaxis = alt.Axis(labels=False, title=None, **common)
    yaxis = alt.Axis(values=[0, 0.2, 0.4, 0.6], format=".1f", title=f"signature {k + 1}", titleFontSize=9,
                     titleFontWeight="normal", titleFont=SANS, titleColor="#111", titlePadding=4,
                     labelFontSize=7.5, labelFont=SANS, labelColor="#111", labelPadding=1, tickSize=3,
                     grid=False, domainColor="black", tickColor="black")
    bars = alt.Chart(df).transform_calculate(x0="datum.i - 0.41", x1="datum.i + 0.41").mark_bar().encode(
        x=alt.X("x0:Q", scale=IDX_SCALE, axis=xaxis),
        x2="x1:Q",
        y=alt.Y("v:Q", scale=VAL_SCALE, axis=yaxis),
        y2=alt.datum(0),
        color=alt.Color("grp:N", scale=alt.Scale(domain=list(range(6)), range=BAR_COLORS), legend=None),
    )
    layers = [bars]
    ann = ANNOTS.get(k, [])
    if ann:
        trows, rrows, hrows = [], [], []
        for (txt, tx, ty, arrows) in ann:
            trows.append({"tx": tx, "ty": ty, "label": txt})
            for (x0, y0, x1, y1) in arrows:
                dx = (x1 - x0) * PX_PER_IDX
                dy = (y1 - y0) * PX_PER_VAL
                ang = math.degrees(math.atan2(dx, dy)) % 360
                L = math.hypot(dx, dy) or 1.0
                back = 1.5
                hx = x1 - (dx / L) * back / PX_PER_IDX
                hy = y1 - (dy / L) * back / PX_PER_VAL
                rrows.append({"ax": x0, "ay": y0, "bx": hx, "by": hy})
                hrows.append({"hx": hx, "hy": hy, "ang": ang})
        texts = alt.Chart(pd.DataFrame(trows)).mark_text(font=MONO, fontSize=8, color="#555555").encode(
            x=alt.X("tx:Q", scale=IDX_SCALE, axis=xaxis), y=alt.Y("ty:Q", scale=VAL_SCALE, axis=yaxis),
            text="label:N")
        rules = alt.Chart(pd.DataFrame(rrows)).mark_rule(color="black", strokeWidth=0.8).encode(
            x=alt.X("ax:Q", scale=IDX_SCALE, axis=xaxis), y=alt.Y("ay:Q", scale=VAL_SCALE, axis=yaxis),
            x2="bx:Q", y2="by:Q")
        heads = alt.Chart(pd.DataFrame(hrows)).mark_point(shape="triangle-up", filled=True, size=13,
                                                          color="black", opacity=1).encode(
            x=alt.X("hx:Q", scale=IDX_SCALE, axis=xaxis), y=alt.Y("hy:Q", scale=VAL_SCALE, axis=yaxis),
            angle=alt.Angle("ang:Q", scale=None))
        layers += [rules, heads, texts]
    one = pd.DataFrame({"z": [0]})
    if k == 0:
        layers.append(alt.Chart(one).mark_text(text="a", font=SANS, fontSize=20, fontWeight="bold",
                                               align="left", baseline="alphabetic", color="black").encode(
            x=alt.value(-40), y=alt.value(-1)))
        layers.append(alt.Chart(one).mark_text(text="b", font=SANS, fontSize=20, fontWeight="bold",
                                               align="left", baseline="alphabetic", color="black").encode(
            x=alt.value(BAR_W + 22), y=alt.value(-1)))
        tdf = pd.DataFrame({"cx": COL_CENTERS, "label": COL_TITLES})
        layers.append(alt.Chart(tdf).mark_text(font=SANS, fontSize=10, color="#222", align="center",
                                               baseline="alphabetic").encode(
            x=alt.X("cx:Q", scale=None), y=alt.value(-4), text="label:N"))
    if k == 3:
        layers.append(alt.Chart(one).mark_text(text="mutation signature intensity", font=SANS, fontSize=8.5,
                                               angle=270, align="center", baseline="middle",
                                               color="#222").encode(
            x=alt.value(BAR_W + 37), y=alt.value(BAR_H + ROW_SP / 2)))
    return alt.layer(*layers).properties(width=BAR_W, height=BAR_H)


MAJOR_TEST = " || ".join(f"datum.value == {v}" for v in X_MAJOR)
XLABEL_EXPR = ("datum.value == 100 ? '10²' : datum.value == 1000 ? '10³' : datum.value == 10000 ? '10⁴' : "
               "datum.value == 100000 ? '10⁵' : datum.value == 1000000 ? '10⁶' : ''")


def line_panel(r, col):
    pops = POPS[col]
    data = LINES[r][col]
    recs = [{"t": 10 ** lt, "v": v, "pop": p} for p in pops for lt, v in zip(LOGT, data[p])]
    df = pd.DataFrame(recs)
    is_all = col == "all"
    ydom = ALL_YDOMAIN if is_all else SUB_YDOMAIN[r]
    yt = ALL_YTICKS if is_all else SUB_YTICKS[r]
    yfmt = ".1f" if is_all else SUB_YFMT[r]
    show_ylab = col in ("all", "AFR")
    bottom = r == 7
    xaxis_kw = dict(values=X_MAJOR + X_MINOR, tickSize={"condition": {"test": MAJOR_TEST, "value": 3.5}, "value": 2},
                    tickColor="#333", tickWidth=0.7, domain=False, grid=False)
    if bottom:
        xaxis = alt.Axis(labelExpr=XLABEL_EXPR, labelFont=SERIF, labelFontSize=8, labelColor="#333",
                         labelOverlap=False, labelPadding=2, labelFlush=(col == "SAS"),
                         title="t (years ago)", titleFont=SERIF, titleFontSize=7.5, titleFontWeight="normal",
                         titleColor="#333", titlePadding=3, **xaxis_kw)
    else:
        xaxis = alt.Axis(labels=False, title=None, **xaxis_kw)
    yaxis = alt.Axis(values=yt, format=yfmt, labels=show_ylab, labelFont=SERIF,
                     labelFontSize=7 if is_all else 8, labelColor="#333", labelPadding=2, tickSize=3,
                     tickColor="#333", tickWidth=0.7, domain=False, grid=False, title=None)
    order = LEGEND_ORDER[col]
    rng = [TAB10[pops.index(p)] for p in order]
    if r == 0:
        legend = alt.Legend(orient="top-right", offset=2, title=None, columns=1 if is_all else 2,
                            labelFont=SANS, labelFontSize=4.2, labelColor="#222", symbolType="stroke",
                            symbolStrokeWidth=1, symbolSize=30, rowPadding=0.3, columnPadding=4, padding=2.5,
                            labelOffset=2, fillColor="white", strokeColor="#cccccc", cornerRadius=2,
                            symbolLimit=0, labelLimit=60)
    else:
        legend = None
    ch = alt.Chart(df).mark_line(strokeWidth=1.6 if is_all else 1.05, interpolate="monotone", clip=True).encode(
        x=alt.X("t:Q", scale=alt.Scale(type="log", domain=[100, 1000000], nice=False), axis=xaxis),
        y=alt.Y("v:Q", scale=alt.Scale(domain=ydom, nice=False, zero=False), axis=yaxis),
        color=alt.Color("pop:N", scale=alt.Scale(domain=order, range=rng), legend=legend),
    )
    return ch.properties(width=PANEL_W, height=PANEL_H,
                         view=alt.ViewBackground(stroke="#444", strokeWidth=1))


def blank(w):
    return alt.Chart(pd.DataFrame({"z": [0]})).mark_text(text="").encode(x=alt.value(0)).properties(
        width=w, height=PANEL_H, view=alt.ViewBackground(stroke="white", strokeWidth=0, strokeOpacity=0))


cells = []
for r in range(8):
    cells.append(bar_panel(r))
    cells.append(blank(GAP_A))
    cells.append(line_panel(r, "all"))
    cells.append(blank(GAP_B))
    for col in COLS[1:]:
        cells.append(line_panel(r, col))

chart = alt.concat(*cells, columns=9, spacing={"row": ROW_SP, "column": COL_SP}, bounds="flush", align="each")
chart = chart.resolve_scale(color="independent").resolve_legend(color="independent")
chart = chart.properties(padding={"left": 12, "top": 4, "right": 0, "bottom": 0})
chart = chart.configure_view(stroke="transparent").configure(background="white")

chart.save("out.html", embed_options={"renderer": "svg", "actions": False})
